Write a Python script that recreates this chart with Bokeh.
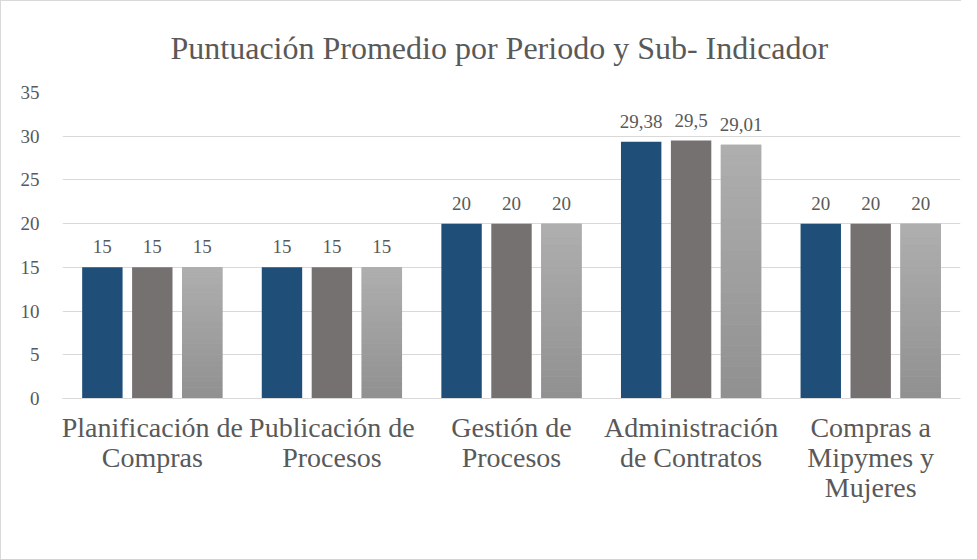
from bokeh.plotting import figure
from bokeh.models import (ColumnDataSource, LabelSet, Legend, LegendItem,
                          SingleIntervalTicker, Range1d, LinearAxis, FixedTicker)
from bokeh.transform import dodge
from bokeh.embed import file_html
from bokeh.resources import INLINE

categories = ["Planificación de Compras", "Publicación de Procesos", "Gestión de Procesos",
              "Administración de Contratos", "Compras a Mipymes y Mujeres"]
category_labels = ["Planificación de\nCompras", "Publicación de\nProcesos", "Gestión de\nProcesos",
                   "Administración\nde Contratos", "Compras a\nMipymes y\nMujeres"]
series_names = ["T1", "T2", "T3"]
t1 = [15, 15, 20, 29.38, 20]
t2 = [15, 15, 20, 29.5, 20]
t3 = [15, 15, 20, 29.01, 20]
y_ticks_interval = 5
y_max = 35

colors = ["#1F4E79", "#757171", "#A5A5A5"]
t3_top_color = (0xAF, 0xAF, 0xAF)
t3_bottom_color = (0x90, 0x90, 0x90)
offsets = [-0.278, 0.0, 0.278]
FONT = "Liberation Serif"
TXT = "#595959"
GRID = "#D9D9D9"


def fmt(v):
    return f"{v:g}".replace(".", ",")


pos = list(range(len(categories)))  # category index on the x axis
data = {"cat": categories, "pos": pos}
for name, vals in zip(series_names, [t1, t2, t3]):
    data[name] = vals
    data[name + "_lbl"] = [fmt(v) for v in vals]
src = ColumnDataSource(data)

split = [lbl.split("\n") for lbl in category_labels]
n_lines = max(len(s) for s in split)

p = figure(x_range=Range1d(-0.5, len(categories) - 0.5), y_range=Range1d(0, y_max),
           frame_width=898, frame_height=306, output_backend="svg", toolbar_location=None,
           x_axis_location=None,
           min_border_left=61, min_border_right=1, min_border_top=90, min_border_bottom=146,
           title="Puntuación Promedio por Periodo y Sub- Indicador")
p.styles = {"border-left": "1px solid #D9D9D9", "border-top": "1px solid #D9D9D9"}
p.outline_line_color = None
p.background_fill_color = "white"
p.border_fill_color = "white"

p.title.text_font = FONT
p.title.text_font_size = "32px"
p.title.text_font_style = "normal"
p.title.text_color = TXT
p.title.align = "left"
p.title.offset = 108
p.title.standoff = 53

renderers = []
for name, col, off in zip(series_names, colors, offsets):
    r = p.vbar(x=dodge("pos", off), top=name, width=0.225, source=src,
               fill_color=col, line_color=None)
    renderers.append(r)

# vertical gradient on the T3 bars (style only: slices of each bar's own height)
K = 24
for k in range(K):
    f0, f1 = k / K, (k + 1) / K
    fm = (f0 + f1) / 2
    c = tuple(round(b + (t - b) * fm) for t, b in zip(t3_top_color, t3_bottom_color))
    seg = ColumnDataSource({"pos": pos,
                            "b": [v * f0 for v in t3],
                            "t": [v * f1 for v in t3]})
    p.vbar(x=dodge("pos", offsets[2]), bottom="b", top="t", width=0.225,
           source=seg, fill_color="#%02X%02X%02X" % c, line_color=None)

for name, off in zip(series_names, offsets):
    labels = LabelSet(x=dodge("pos", off), y=name, text=name + "_lbl", source=src,
                      text_align="center", text_baseline="alphabetic", y_offset=14,
                      text_font=FONT, text_font_size="19px", text_color=TXT)
    p.add_layout(labels)

p.yaxis.ticker = SingleIntervalTicker(interval=y_ticks_interval)
p.yaxis.axis_line_color = None
p.yaxis.major_tick_line_color = None
p.yaxis.minor_tick_line_color = None
p.yaxis.major_label_text_font = FONT
p.yaxis.major_label_text_font_size = "19px"
p.yaxis.major_label_text_color = TXT
p.yaxis.major_label_standoff = 17

# category labels: one axis per text line, ticks at the category positions
for i in range(n_lines):
    ax = LinearAxis(ticker=FixedTicker(ticks=pos))
    ax.axis_line_color = GRID if i == 0 else None
    ax.major_tick_line_color = None
    ax.minor_tick_line_color = None
    ax.major_label_text_font = FONT
    ax.major_label_text_font_size = "28px"
    ax.major_label_text_color = TXT
    ax.major_label_standoff = 7 if i == 0 else -10
    ax.major_label_overrides = {k: (s[i] if i < len(s) else "") for k, s in zip(pos, split)}
    p.add_layout(ax, "below")

p.xgrid.grid_line_color = None
p.ygrid.grid_line_color = GRID
p.ygrid.grid_line_width = 1

legend = Legend(items=[LegendItem(label=n, renderers=[r]) for n, r in zip(series_names, renderers)],
                orientation="horizontal", location=(372, 26))
legend.glyph_width = 8
legend.glyph_height = 8
legend.label_text_font = FONT
legend.label_text_font_size = "18px"
legend.label_text_color = TXT
legend.label_standoff = 5
legend.spacing = 18
legend.padding = 0
legend.margin = 0
legend.border_line_color = None
legend.background_fill_alpha = 0
p.add_layout(legend, "below")

open("out.html", "w").write(file_html(p, INLINE))
